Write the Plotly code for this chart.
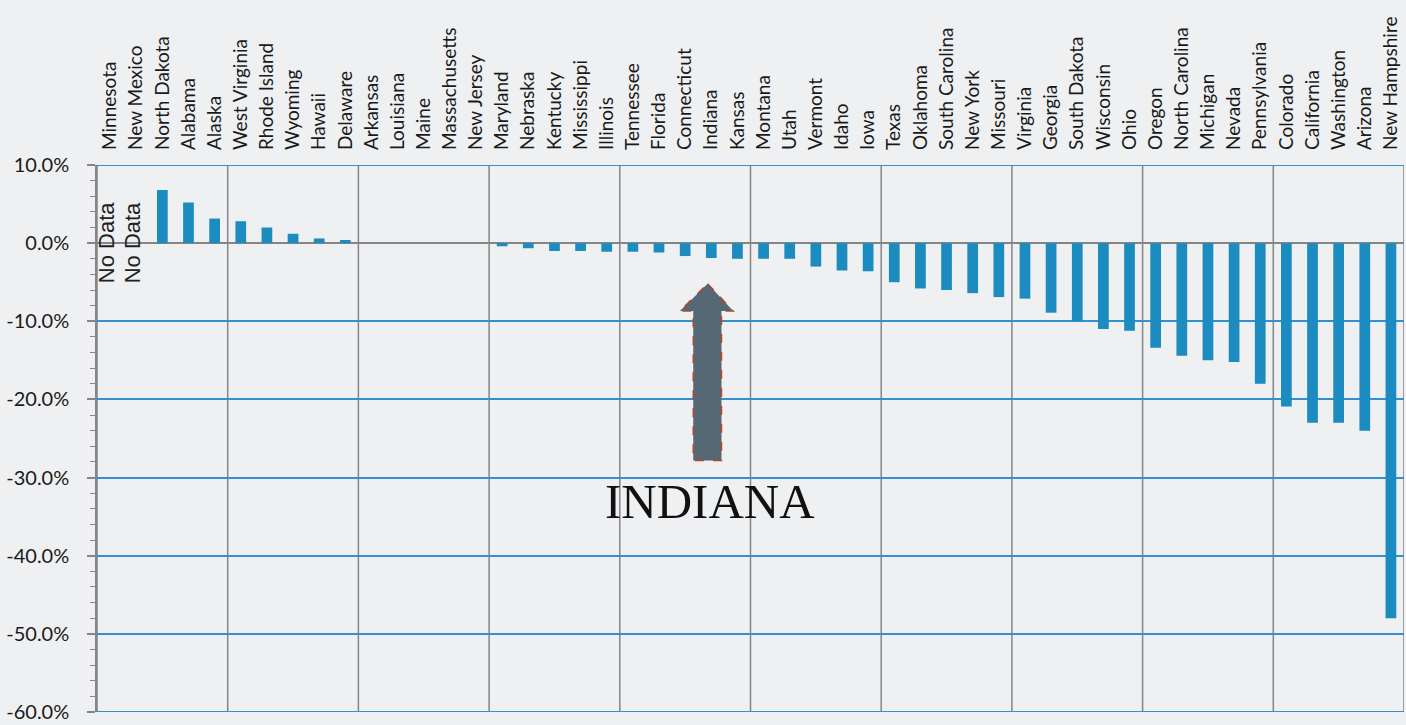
import plotly.graph_objects as go

states = ["Minnesota", "New Mexico", "North Dakota", "Alabama", "Alaska", "West Virginia",
          "Rhode Island", "Wyoming", "Hawaii", "Delaware", "Arkansas", "Louisiana", "Maine",
          "Massachusetts", "New Jersey", "Maryland", "Nebraska", "Kentucky", "Mississippi",
          "Illinois", "Tennessee", "Florida", "Connecticut", "Indiana", "Kansas", "Montana",
          "Utah", "Vermont", "Idaho", "Iowa", "Texas", "Oklahoma", "South Carolina", "New York",
          "Missouri", "Virginia", "Georgia", "South Dakota", "Wisconsin", "Ohio", "Oregon",
          "North Carolina", "Michigan", "Nevada", "Pennsylvania", "Colorado", "California",
          "Washington", "Arizona", "New Hampshire"]

change_pct = [None, None, 6.8, 5.2, 3.15, 2.8, 2.0, 1.2, 0.6, 0.4,
              0, 0, 0, 0, 0, -0.4, -0.65, -1.0, -1.0, -1.1,
              -1.1, -1.2, -1.65, -1.9, -2.0, -2.0, -2.0, -3.0, -3.5, -3.6,
              -5.0, -5.8, -6.0, -6.4, -6.9, -7.1, -8.9, -10.0, -11.0, -11.2,
              -13.4, -14.4, -15.0, -15.2, -18.0, -20.9, -23.0, -23.0, -24.0, -48.0]

no_data_states = ["Minnesota", "New Mexico"]

ytick_vals = [10, 0, -10, -20, -30, -40, -50, -60]
ytick_text = ["10.0%", "0.0%", "-10.0%", "-20.0%", "-30.0%", "-40.0%", "-50.0%", "-60.0%"]

BG = "#EEF0F2"
BAR = "#1B8BC0"
BLUE_GRID = "#3590D2"
GRAY = "#858585"

fig = go.Figure()
fig.add_trace(go.Bar(x=states, y=change_pct, marker_color=BAR, marker_line_width=0,
                     hoverinfo="x+y"))

shapes = []
n = len(states)
for i in range(0, n + 1, 5):
    shapes.append(dict(type="line", xref="x", yref="paper", x0=i - 0.5, x1=i - 0.5,
                       y0=0, y1=1, line=dict(color=GRAY, width=1.5), layer="below"))
for yv in (10, -60):
    shapes.append(dict(type="line", xref="paper", yref="y", x0=0, x1=1, y0=yv, y1=yv,
                       line=dict(color=BLUE_GRID, width=2), layer="below"))

# Indiana arrow
ci = states.index("Indiana")
cx = ci - 0.14
path = (f"M {cx:.3f},-5.2 L {cx + 0.98:.3f},-8.68 L {cx + 0.53:.3f},-8.68 "
        f"L {cx + 0.53:.3f},-27.8 L {cx - 0.55:.3f},-27.8 L {cx - 0.55:.3f},-8.68 "
        f"L {cx - 1.06:.3f},-8.68 Z")
shapes.append(dict(type="path", xref="x", yref="y", path=path, fillcolor="#556873",
                   line=dict(color="#B5472F", width=1.5, dash="dash"), layer="above"))

annotations = [dict(x=ci - 0.05, y=-33.0, xref="x", yref="y", text="INDIANA", showarrow=False,
                    font=dict(family="Liberation Serif, Times New Roman, serif", size=49,
                              color="#111111"),
                    xanchor="center", yanchor="middle")]
for s in no_data_states:
    annotations.append(dict(x=s, y=0, xref="x", yref="y", text="No Data", showarrow=False,
                            textangle=-90, xanchor="center", yanchor="middle", xshift=-4,
                            font=dict(family="Liberation Sans, Arial, sans-serif", size=22,
                                      color="#222222")))

fig.update_layout(
    width=1406, height=725,
    margin=dict(l=97, r=2, t=165, b=11),
    paper_bgcolor=BG, plot_bgcolor=BG,
    showlegend=False,
    bargap=0.59,
    shapes=shapes,
    annotations=annotations,
    font=dict(family="Lato, sans-serif", color="#222222"),
)
fig.update_xaxes(side="top", type="category", tickangle=-90, showgrid=False, ticks="",
                 tickfont=dict(family="Lato, sans-serif", size=19, color="#1a1a1a"),
                 ticklabelstandoff=14, showline=False, zeroline=False,
                 range=[-0.5, n - 0.5])
fig.update_yaxes(range=[-60, 10], tickvals=ytick_vals, ticktext=ytick_text,
                 showgrid=True, gridcolor=BLUE_GRID, gridwidth=1.5,
                 zeroline=True, zerolinecolor=GRAY, zerolinewidth=1.5,
                 showline=True, linecolor=GRAY, linewidth=1.5,
                 ticks="outside", ticklen=8, tickcolor=GRAY, tickwidth=1.5,
                 minor=dict(dtick=2, ticks="outside", ticklen=5, tickcolor=GRAY,
                            tickwidth=1.2, showgrid=False),
                 tickfont=dict(family="Lato, sans-serif", size=20, color="#1a1a1a"),
                 ticklabelstandoff=14)

fig.write_html("out.html", config={"displayModeBar": False},
               post_script="document.body.style.margin='0';document.body.style.overflow='hidden';")
